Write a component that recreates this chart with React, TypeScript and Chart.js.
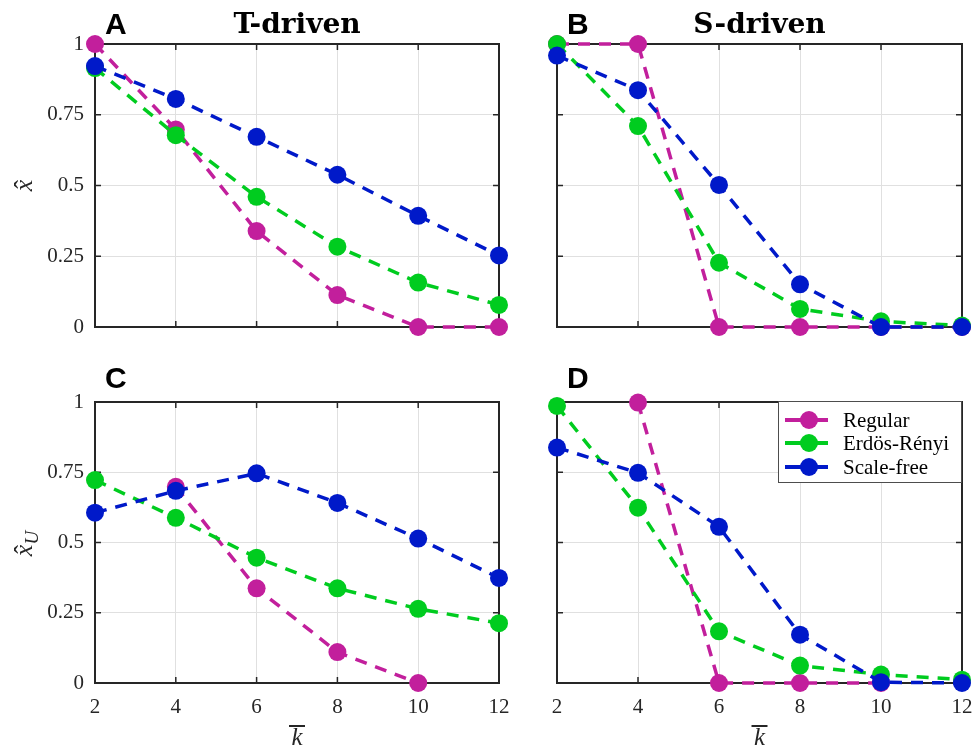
import React, { useEffect, useRef } from "react";
import { Chart, registerables } from "chart.js";

Chart.register(...registerables);

// ---------- data ----------
const kValues = [2, 4, 6, 8, 10, 12];
const yTicks = [0, 0.25, 0.5, 0.75, 1];
const seriesNames = ["Regular", "Erdös-Rényi", "Scale-free"];
const seriesColors = ["#C21F9C", "#00CC1F", "#0019C9"];

// A: T-driven, x-hat
const tRegular = [1.0, 0.698, 0.339, 0.113, 0.0, 0.0];
const tErdos = [0.915, 0.678, 0.46, 0.284, 0.157, 0.078];
const tScaleFree = [0.922, 0.806, 0.672, 0.538, 0.393, 0.253];

// B: S-driven, x-hat
const sRegular = [1.0, 1.0, 0.0, 0.0, 0.0, 0.0];
const sErdos = [1.0, 0.71, 0.227, 0.064, 0.02, 0.005];
const sScaleFree = [0.959, 0.837, 0.502, 0.151, 0.0, 0.0];

// C: T-driven, x-hat_U
const tuRegular = [null, 0.698, 0.337, 0.11, 0.0, null];
const tuErdos = [0.722, 0.588, 0.446, 0.337, 0.264, 0.213];
const tuScaleFree = [0.606, 0.684, 0.746, 0.641, 0.514, 0.374];

// D: S-driven, x-hat_U
const suRegular = [null, 0.998, 0.0, 0.0, 0.0, null];
const suErdos = [0.986, 0.624, 0.184, 0.062, 0.03, 0.012];
const suScaleFree = [0.838, 0.748, 0.556, 0.172, 0.003, 0.0];

// ---------- styling ----------
const AXIS_COLOR = "#262626";
const GRID_COLOR = "#e0e0e0";
const TICK_FONT = { family: "Liberation Serif", size: 21 };

const zeroPad = (s: any) => {
  s.paddingTop = 0;
  s.paddingBottom = 0;
  s.paddingLeft = 0;
  s.paddingRight = 0;
};

const decorPlugin = {
  id: "decor",
  beforeDatasetsDraw(chart: any, _args: any, opts: any) {
    const { ctx, chartArea: a, scales } = chart;
    ctx.save();
    ctx.strokeStyle = AXIS_COLOR;
    ctx.lineWidth = 1.5;
    const tl = 6;
    const seg = (x1: number, y1: number, x2: number, y2: number) => {
      ctx.beginPath();
      ctx.moveTo(x1, y1);
      ctx.lineTo(x2, y2);
      ctx.stroke();
    };
    kValues.forEach((k) => {
      const x = scales.x.getPixelForValue(k);
      seg(x, a.bottom, x, a.bottom - tl);
      seg(x, a.top, x, a.top + tl);
    });
    yTicks.forEach((v) => {
      const y = scales.y.getPixelForValue(v);
      seg(a.left, y, a.left + tl, y);
      seg(a.right, y, a.right - tl, y);
    });
    ctx.lineWidth = 2;
    ctx.strokeRect(a.left, a.top, a.right - a.left, a.bottom - a.top);
    ctx.restore();
  },
  afterDatasetsDraw(chart: any, _args: any, opts: any) {
    const { ctx, chartArea: a } = chart;
    const cx = (a.left + a.right) / 2;
    ctx.save();
    ctx.fillStyle = "#000";
    // panel letter
    if (opts.letter) {
      ctx.font = "bold 30px 'Liberation Sans'";
      ctx.textAlign = "left";
      ctx.textBaseline = "alphabetic";
      ctx.fillText(opts.letter, a.left + 10, a.top - opts.letterGap);
    }
    // panel title
    if (opts.title) {
      ctx.font = "bold 28px 'DejaVu Serif'";
      ctx.textAlign = "center";
      ctx.textBaseline = "alphabetic";
      ctx.fillText(opts.title, cx, a.top - 11);
    }
    // y title
    if (opts.yTitle) {
      const cy = (a.top + a.bottom) / 2;
      ctx.save();
      ctx.translate(a.left - 68, cy);
      ctx.rotate(-Math.PI / 2);
      ctx.fillStyle = AXIS_COLOR;
      ctx.textBaseline = "alphabetic";
      ctx.textAlign = "center";
      const sub = opts.yTitle === "xU";
      const xx = sub ? -8 : 0;
      ctx.font = "italic 26px 'Liberation Serif'";
      ctx.fillText("x", xx, 5);
      ctx.font = "26px 'Liberation Serif'";
      ctx.fillText("ˆ", xx + 1, 5);
      if (sub) {
        ctx.font = "italic 19px 'Liberation Serif'";
        ctx.textAlign = "left";
        ctx.fillText("U", xx + 6, 11);
      }
      ctx.restore();
    }
    // x title (k-bar)
    if (opts.xTitle) {
      ctx.fillStyle = AXIS_COLOR;
      ctx.font = "italic 25px 'Liberation Serif'";
      ctx.textAlign = "center";
      ctx.textBaseline = "alphabetic";
      const by = a.bottom + 62;
      ctx.fillText("k", cx, by);
      ctx.strokeStyle = AXIS_COLOR;
      ctx.lineWidth = 2;
      ctx.beginPath();
      ctx.moveTo(cx - 8, by - 19);
      ctx.lineTo(cx + 8, by - 19);
      ctx.stroke();
    }
    // legend
    if (opts.legend) {
      const w = 184;
      const h = 82;
      const lx = a.right - w;
      const ly = a.top - 1;
      ctx.fillStyle = "#ffffff";
      ctx.fillRect(lx, ly, w, h);
      ctx.strokeStyle = "#4d4d4d";
      ctx.lineWidth = 1;
      ctx.strokeRect(lx + 0.5, ly + 0.5, w - 1, h - 1);
      const rows = [19, 42, 66];
      seriesNames.forEach((name, i) => {
        const ry = ly + rows[i];
        ctx.strokeStyle = seriesColors[i];
        ctx.lineWidth = 4;
        ctx.beginPath();
        ctx.moveTo(lx + 7, ry);
        ctx.lineTo(lx + 50, ry);
        ctx.stroke();
        ctx.fillStyle = seriesColors[i];
        ctx.beginPath();
        ctx.arc(lx + 31, ry, 9, 0, Math.PI * 2);
        ctx.fill();
        ctx.fillStyle = "#000";
        ctx.font = "21px 'Liberation Serif'";
        ctx.textAlign = "left";
        ctx.textBaseline = "middle";
        ctx.fillText(name, lx + 65, ry + 1);
      });
    }
    ctx.restore();
  },
};

type PanelProps = {
  left: number;
  top: number;
  width: number;
  height: number;
  area: { left: number; top: number; right: number; bottom: number };
  series: (number | null)[][];
  showXTicks: boolean;
  showYTicks: boolean;
  decor: any;
};

function Panel(p: PanelProps) {
  const ref = useRef<HTMLCanvasElement | null>(null);
  useEffect(() => {
    if (!ref.current) return;
    const datasets = p.series.map((vals, i) => ({
      label: seriesNames[i],
      data: kValues.map((k, j) => ({ x: k, y: vals[j] })),
      borderColor: seriesColors[i],
      backgroundColor: seriesColors[i],
      borderWidth: 3.5,
      borderDash: [12, 9],
      pointRadius: 9,
      pointHoverRadius: 9,
      pointBorderWidth: 0,
      pointBackgroundColor: seriesColors[i],
      tension: 0,
      spanGaps: false,
      clip: false as any,
      order: 3 - i,
    }));
    const xAxisH = p.height - p.area.bottom;
    const chart = new Chart(ref.current, {
      type: "line",
      data: { datasets },
      plugins: [decorPlugin],
      options: {
        animation: false,
        responsive: false,
        maintainAspectRatio: false,
        devicePixelRatio: 1,
        events: [],
        layout: {
          padding: {
            left: 0,
            top: p.area.top,
            right: p.width - p.area.right,
            bottom: p.showXTicks ? 0 : p.height - p.area.bottom,
          },
        },
        plugins: {
          legend: { display: false },
          tooltip: { enabled: false },
          decor: p.decor,
        } as any,
        scales: {
          x: {
            type: "linear",
            min: 2,
            max: 12,
            afterBuildTicks: (s: any) => {
              s.ticks = kValues.map((v) => ({ value: v }));
            },
            afterFit: (s: any) => {
              s.height = p.showXTicks ? xAxisH : 0;
              zeroPad(s);
            },
            ticks: {
              display: p.showXTicks,
              font: TICK_FONT,
              color: AXIS_COLOR,
              padding: 12,
              maxRotation: 0,
              callback: (v: any) => String(v),
            },
            grid: { color: GRID_COLOR, lineWidth: 1, drawTicks: false },
            border: { display: false },
          },
          y: {
            type: "linear",
            min: 0,
            max: 1,
            afterBuildTicks: (s: any) => {
              s.ticks = yTicks.map((v) => ({ value: v }));
            },
            afterFit: (s: any) => {
              s.width = p.area.left;
              zeroPad(s);
            },
            ticks: {
              display: p.showYTicks,
              font: TICK_FONT,
              color: AXIS_COLOR,
              padding: 11,
              callback: (v: any) => String(v),
            },
            grid: { color: GRID_COLOR, lineWidth: 1, drawTicks: false },
            border: { display: false },
          },
        },
      } as any,
    });
    return () => chart.destroy();
  }, []);
  return (
    <canvas
      ref={ref}
      width={p.width}
      height={p.height}
      style={{
        position: "absolute",
        left: p.left,
        top: p.top,
        width: p.width,
        height: p.height,
      }}
    />
  );
}

export default function App() {
  return (
    <div
      style={{
        position: "absolute",
        left: 0,
        top: 0,
        width: 977,
        height: 749,
        background: "#fff",
        overflow: "hidden",
      }}
    >
      <Panel
        left={0}
        top={0}
        width={520}
        height={340}
        area={{ left: 95, top: 44, right: 499, bottom: 327 }}
        series={[tRegular, tErdos, tScaleFree]}
        showXTicks={false}
        showYTicks={true}
        decor={{ letter: "A", letterGap: 10, title: "T-driven", yTitle: "x" }}
      />
      <Panel
        left={520}
        top={0}
        width={457}
        height={340}
        area={{ left: 37, top: 44, right: 442, bottom: 327 }}
        series={[sRegular, sErdos, sScaleFree]}
        showXTicks={false}
        showYTicks={false}
        decor={{ letter: "B", letterGap: 10, title: "S-driven" }}
      />
      <Panel
        left={0}
        top={340}
        width={520}
        height={409}
        area={{ left: 95, top: 62, right: 499, bottom: 343 }}
        series={[tuRegular, tuErdos, tuScaleFree]}
        showXTicks={true}
        showYTicks={true}
        decor={{ letter: "C", letterGap: 14, yTitle: "xU", xTitle: true }}
      />
      <Panel
        left={520}
        top={340}
        width={457}
        height={409}
        area={{ left: 37, top: 62, right: 442, bottom: 343 }}
        series={[suRegular, suErdos, suScaleFree]}
        showXTicks={true}
        showYTicks={false}
        decor={{ letter: "D", letterGap: 14, xTitle: true, legend: true }}
      />
    </div>
  );
}
